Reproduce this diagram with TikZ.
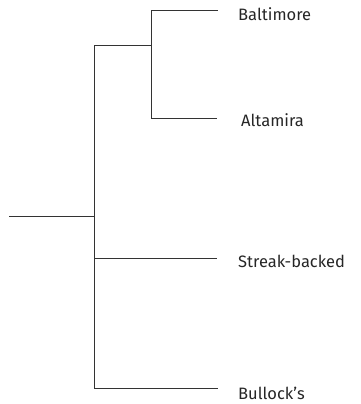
\documentclass[tikz,border=0pt]{standalone}
\usepackage{fontspec}
\setmainfont{Fira Sans}
\begin{document}
\begin{tikzpicture}[x=1pt,y=-1pt,
  branch/.style={draw=black!80,line width=1pt},
  leaf/.style={anchor=west,inner sep=0pt,font=\fontsize{16.5}{18}\selectfont,text=black!85}]
\useasboundingbox (0,0) rectangle (360,404);
\coordinate (r0) at (9,216);
\coordinate (r) at (94,216);
\coordinate (mtop) at (94,46);
\coordinate (mbot) at (94,388);
\coordinate (ms) at (94,258);
\coordinate (i) at (151,46);
\coordinate (itop) at (151,11);
\coordinate (ibot) at (151,118);
\coordinate (eb) at (218,11);
\coordinate (ea) at (217,118);
\coordinate (es) at (217,258);
\coordinate (eu) at (218,388);
\node[leaf] (balt) at (238,14) {Baltimore};
\node[leaf] (alta) at (241,120) {Altamira};
\node[leaf] (streak) at (238,261) {Streak-backed};
\node[leaf] (bull) at (238,393) {Bullock’s};
\draw[branch] (r0) -- (r);
\draw[branch] (mtop) -- (mbot);
\draw[branch] (mtop) -- (i);
\draw[branch] (itop) -- (ibot);
\draw[branch] (itop) -- (eb);
\draw[branch] (ibot) -- (ea);
\draw[branch] (ms) -- (es);
\draw[branch] (mbot) -- (eu);
\end{tikzpicture}
\end{document}
